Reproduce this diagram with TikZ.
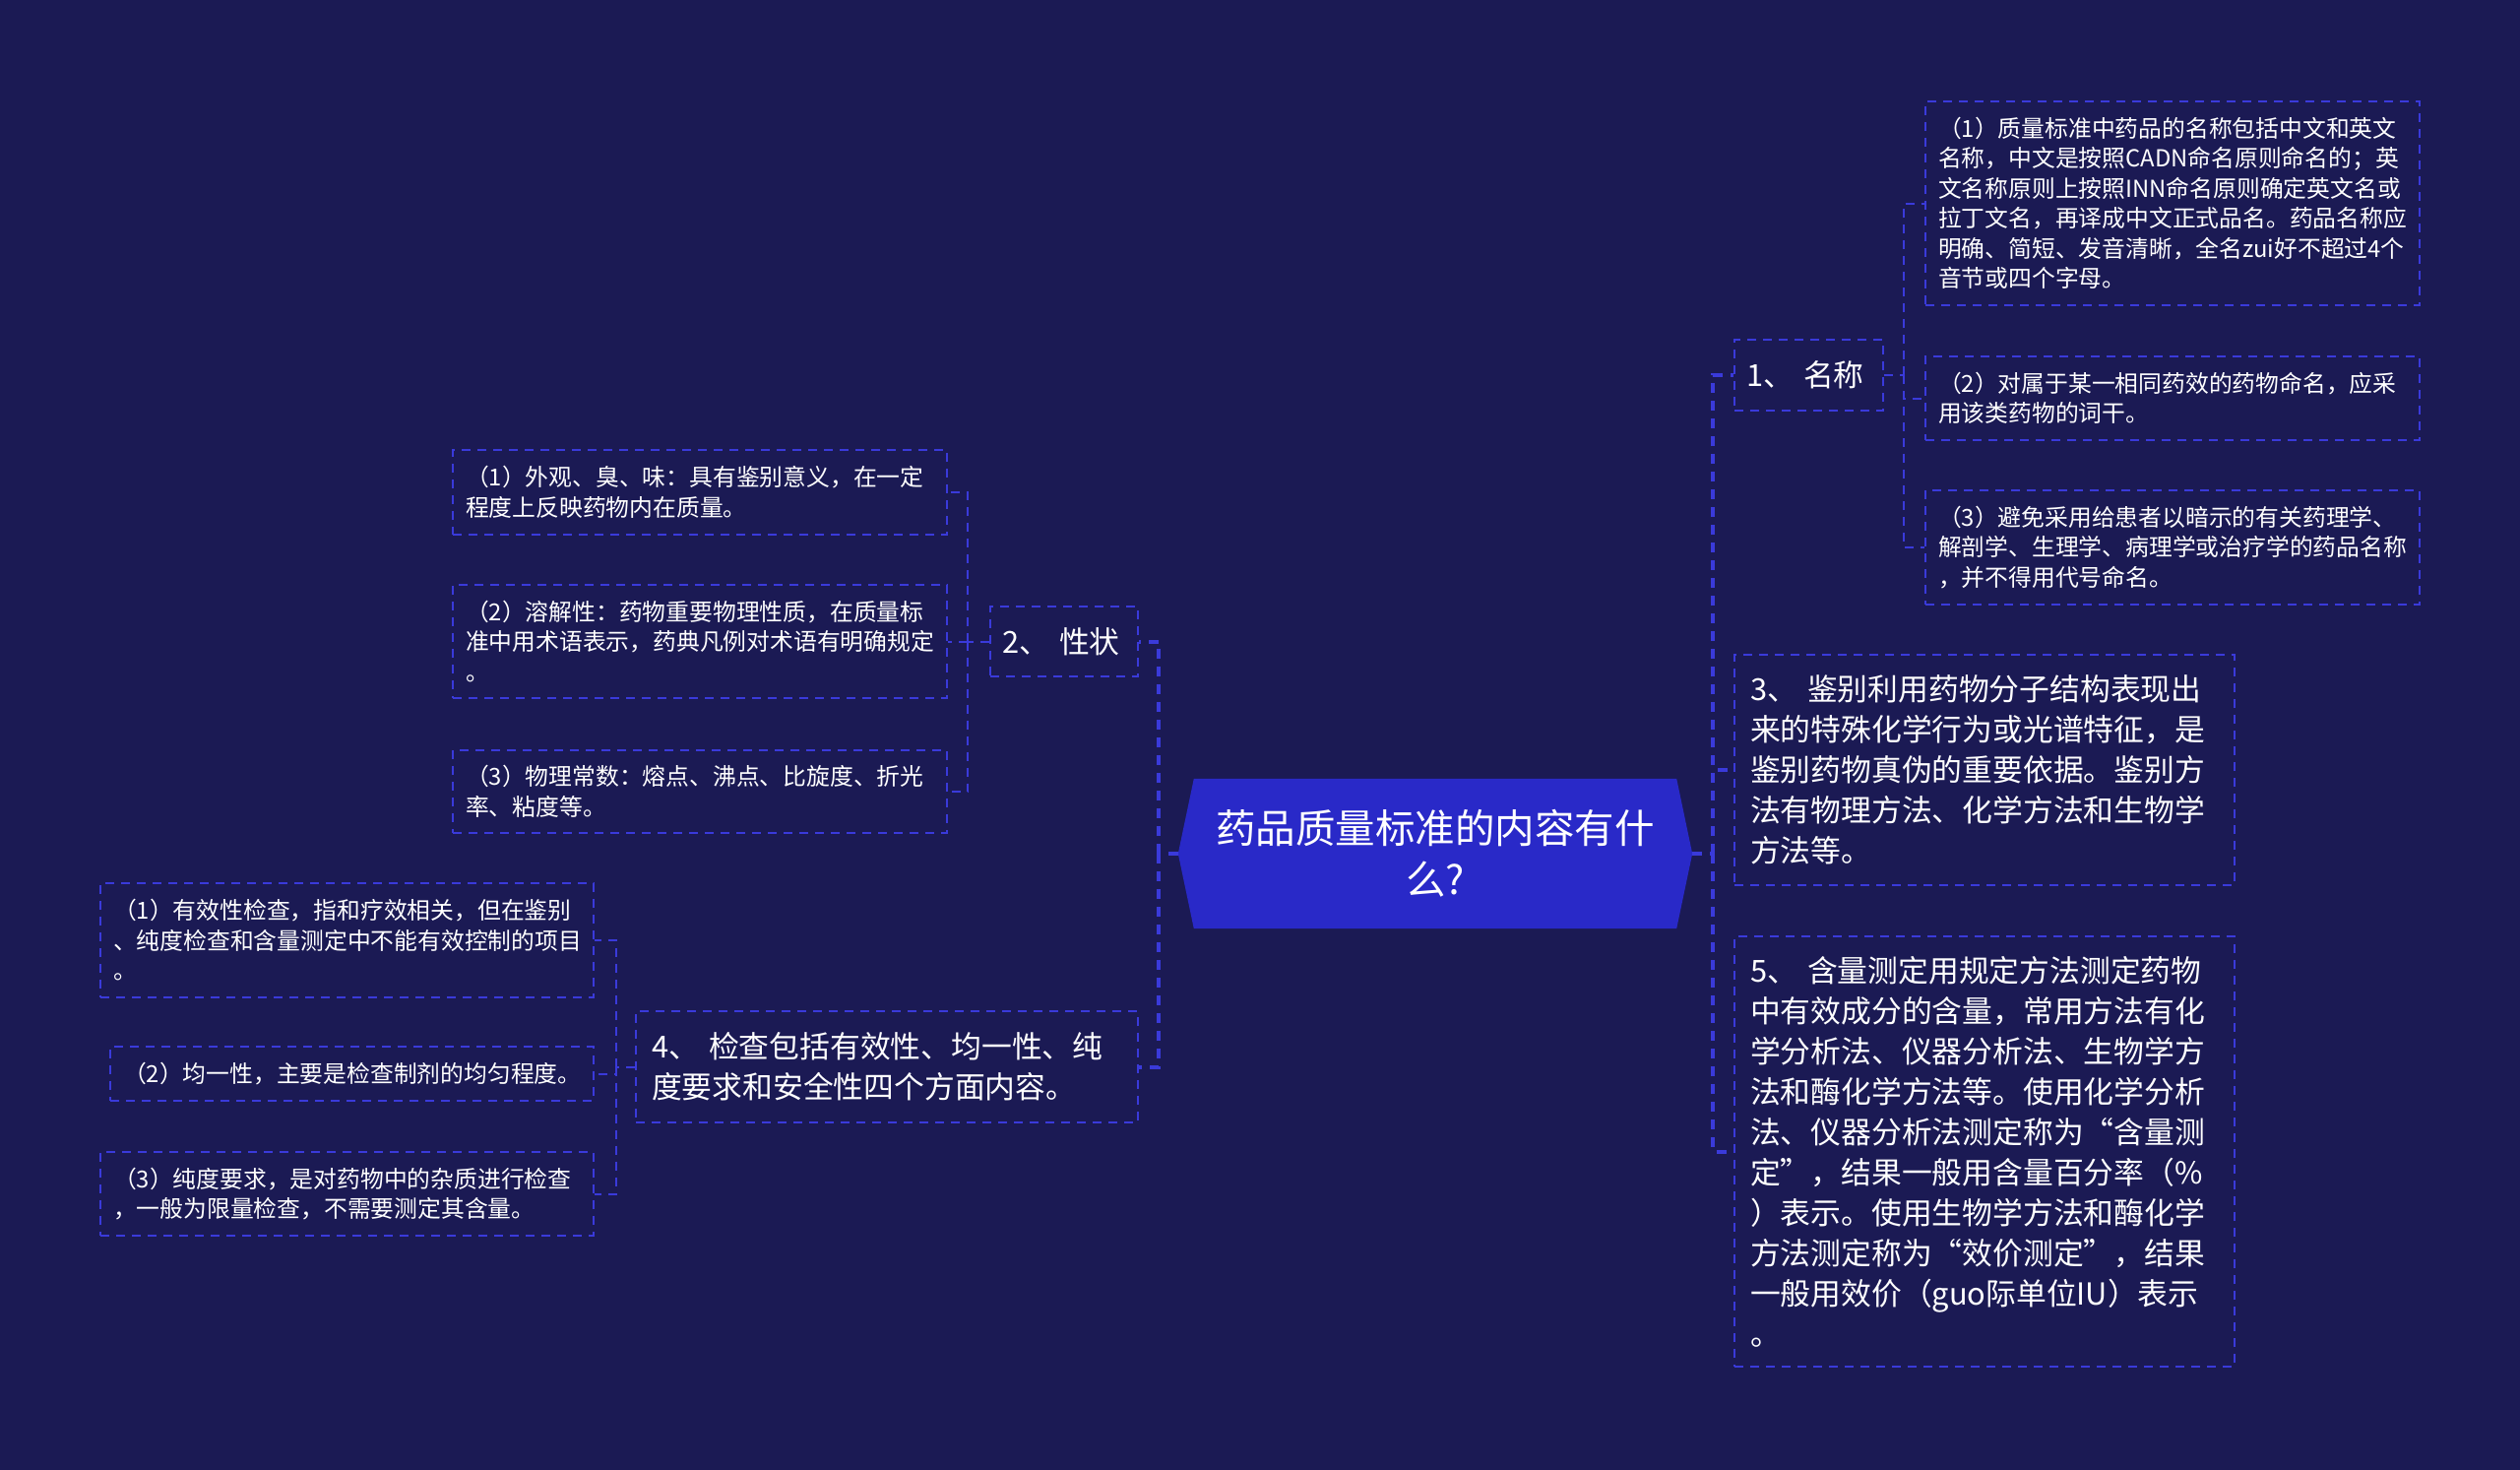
\documentclass[tikz,border=0pt]{standalone}
\usepackage{fontspec}
\setmainfont{Noto Sans CJK SC}
\usetikzlibrary{backgrounds,calc}
\definecolor{bgc}{RGB}{27,26,84}
\definecolor{linec}{RGB}{58,58,218}
\definecolor{hubc}{RGB}{41,41,200}
\tikzset{
  box/.style={draw=linec, line width=2pt, dash pattern=on 9pt off 7pt, text=white,
    align=left, inner ysep=0pt, execute at begin node={\parindent=0pt}},
  leaf/.style={box, inner xsep=13pt, font=\fontsize{23.8}{30.5}\selectfont},
  midbox/.style={box, inner xsep=16pt, font=\fontsize{30.8}{41}\selectfont},
  hub/.style={text=white, align=center, inner sep=0pt, minimum width=522pt,
    minimum height=152pt, font=\fontsize{40.5}{52}\selectfont},
  mainline/.style={draw=linec, line width=4pt, dash pattern=on 10pt off 8pt},
  subline/.style={draw=linec, line width=2pt, dash pattern=on 9pt off 7pt},
}
\begin{document}
\begin{tikzpicture}[x=1pt,y=-1pt]
\useasboundingbox (0,0) rectangle (2560,1493);

% centre
\node[hub] (c) at (1458,867) {药品质量标准的内容有什\\么?};

% right side
\node[midbox, text width=127pt, inner xsep=12pt, minimum height=72pt] (n1) at (1837.5,381) {1、~名称};
\node[leaf, text width=476pt, minimum height=207pt] (n1a) at (2207,206.5) {（1）质量标准中药品的名称包括中文和英文\\名称，中文是按照CADN命名原则命名的；英\\文名称原则上按照INN命名原则确定英文名或\\拉丁文名，再译成中文正式品名。药品名称应\\明确、简短、发音清晰，全名zui好不超过4个\\音节或四个字母。};
\node[leaf, text width=476pt, minimum height=85pt] (n1b) at (2207,404.5) {（2）对属于某一相同药效的药物命名，应采\\用该类药物的词干。};
\node[leaf, text width=476pt, minimum height=116pt] (n1c) at (2207,556) {（3）避免采用给患者以暗示的有关药理学、\\解剖学、生理学、病理学或治疗学的药品名称\\，并不得用代号命名。};
\node[midbox, text width=476pt, minimum height=234pt] (n3) at (2016,782) {3、~鉴别利用药物分子结构表现出\\来的特殊化学行为或光谱特征，是\\鉴别药物真伪的重要依据。鉴别方\\法有物理方法、化学方法和生物学\\方法等。};
\node[midbox, text width=476pt, minimum height=437pt] (n5) at (2016,1169.5) {5、~含量测定用规定方法测定药物\\中有效成分的含量，常用方法有化\\学分析法、仪器分析法、生物学方\\法和酶化学方法等。使用化学分析\\法、仪器分析法测定称为“含量测\\定”，结果一般用含量百分率（\%\\）表示。使用生物学方法和酶化学\\方法测定称为“效价测定”，结果\\一般用效价（guo际单位IU）表示\\。};

% left side
\node[midbox, text width=126pt, inner xsep=12pt, minimum height=71pt] (n2) at (1081,651.5) {2、~性状};
\node[leaf, text width=476pt, minimum height=86pt] (n2a) at (711,500) {（1）外观、臭、味：具有鉴别意义，在一定\\程度上反映药物内在质量。};
\node[leaf, text width=476pt, minimum height=115pt] (n2b) at (711,651.5) {（2）溶解性：药物重要物理性质，在质量标\\准中用术语表示，药典凡例对术语有明确规定\\。};
\node[leaf, text width=476pt, minimum height=84pt] (n2c) at (711,804) {（3）物理常数：熔点、沸点、比旋度、折光\\率、粘度等。};
\node[midbox, text width=478pt, minimum height=113pt] (n4) at (901,1083.5) {4、~检查包括有效性、均一性、纯\\度要求和安全性四个方面内容。};
\node[leaf, text width=475pt, minimum height=116pt] (n4a) at (352.5,955) {（1）有效性检查，指和疗效相关，但在鉴别\\、纯度检查和含量测定中不能有效控制的项目\\。};
\node[leaf, text width=465pt, minimum height=55pt] (n4b) at (357.5,1090.5) {（2）均一性，主要是检查制剂的均匀程度。};
\node[leaf, text width=475pt, minimum height=85pt] (n4c) at (352.5,1212.5) {（3）纯度要求，是对药物中的杂质进行检查\\，一般为限量检查，不需要测定其含量。};

% connector columns
\coordinate (Lx) at (1177,0);
\coordinate (Rx) at (1740,0);
\coordinate (N1x) at (1934,0);
\coordinate (N2x) at (983,0);
\coordinate (N4x) at (626,0);

% main connectors
\draw[mainline] (c.west) -- (Lx |- c.west);
\draw[mainline] (Lx |- c.west) |- (n2.east);
\draw[mainline] (Lx |- c.west) |- (n4.east);
\draw[mainline] (c.east) -- (Rx |- c.east);
\draw[mainline] (Rx |- c.east) |- (n1.west);
\draw[mainline] (Rx |- c.east) |- (n3.west);
\draw[mainline] (Rx |- c.east) |- (n5.west);

% sub connectors
\draw[subline] (n1.east) -- (N1x |- n1.east);
\draw[subline] (N1x |- n1.east) |- (n1a.west);
\draw[subline] (N1x |- n1.east) |- (n1b.west);
\draw[subline] (N1x |- n1.east) |- (n1c.west);
\draw[subline] (n2.west) -- (N2x |- n2.west);
\draw[subline] (N2x |- n2.west) |- (n2a.east);
\draw[subline] (N2x |- n2.west) |- (n2b.east);
\draw[subline] (N2x |- n2.west) |- (n2c.east);
\draw[subline] (n4.west) -- (N4x |- n4.west);
\draw[subline] (N4x |- n4.west) |- (n4a.east);
\draw[subline] (N4x |- n4.west) |- (n4b.east);
\draw[subline] (N4x |- n4.west) |- (n4c.east);

\begin{scope}[on background layer]
\fill[bgc] (0,0) rectangle (2560,1493);
\fill[hubc] ($(c.north west)+(16,0)$) -- ($(c.north east)+(-16,0)$) -- (c.east)
  -- ($(c.south east)+(-16,0)$) -- ($(c.south west)+(16,0)$) -- (c.west) -- cycle;
\end{scope}
\end{tikzpicture}
\end{document}
